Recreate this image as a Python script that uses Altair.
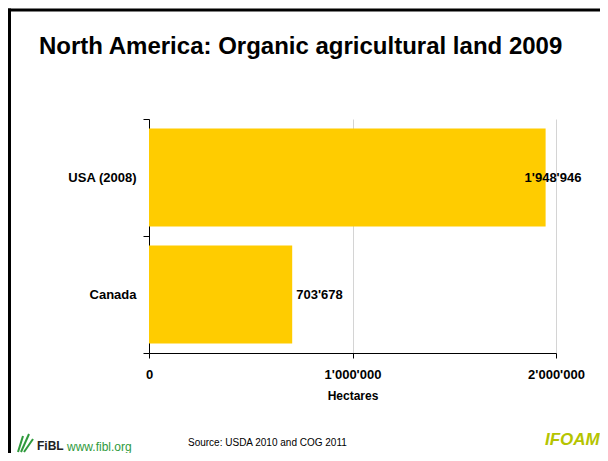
import altair as alt
import pandas as pd

countries = ["USA (2008)", "Canada"]
hectares = [1948946, 703678]
x_ticks = [0, 1000000, 2000000]
title_text = "North America: Organic agricultural land 2009"
source_text = "Source: USDA 2010 and COG 2011"

df = pd.DataFrame({"country": countries, "hectares": hectares})
dummy = pd.DataFrame({"d": [0]})

FONT = "Liberation Sans"
W, H = 407, 234
PAD = {"left": 141, "top": 111, "right": 44, "bottom": 100}
BOTTOM = PAD["bottom"]

x_enc = alt.X(
    "hectares:Q",
    scale=alt.Scale(domain=[0, 2000000], nice=False),
    axis=alt.Axis(
        values=x_ticks, format=",d", title="Hectares",
        grid=True, gridColor="#d4d4d4", gridWidth=1,
        domainColor="#000000", tickColor="#000000", tickSize=5,
        labelFont=FONT, labelFontSize=13, labelFontWeight="bold", labelColor="#000000",
        labelPadding=10, labelFlush=False,
        titleFont=FONT, titleFontSize=12, titleFontWeight="bold", titleColor="#000000",
        titlePadding=9,
    ),
)
y_enc = alt.Y(
    "country:N", sort=countries,
    scale=alt.Scale(paddingInner=0, paddingOuter=0),
    axis=alt.Axis(
        title=None, tickBand="extent", domainColor="#000000", tickColor="#000000",
        tickSize=6, labelPadding=7, labelFont=FONT, labelFontSize=13,
        labelFontWeight="bold", labelColor="#000000", grid=False,
    ),
)

base = alt.Chart(df)
bars = base.mark_bar(color="#FFCC00", height={"band": 0.838}).encode(x=x_enc, y=y_enc)

txt_can = base.transform_filter(alt.datum.country == "Canada").mark_text(
    align="left", baseline="middle", dx=4, font=FONT, fontSize=13, fontWeight="bold", color="#000000"
).encode(x="hectares:Q", y=alt.Y("country:N", sort=countries), text=alt.Text("hectares:Q", format=",d"))

txt_usa = base.transform_filter(alt.datum.country == "USA (2008)").mark_text(
    align="left", baseline="middle", dx=-21, font=FONT, fontSize=13, fontWeight="bold", color="#000000"
).encode(x="hectares:Q", y=alt.Y("country:N", sort=countries), text=alt.Text("hectares:Q", format=",d"))

dec = alt.Chart(dummy)
border_left = dec.mark_rule(color="#000000", strokeWidth=3).encode(
    x=alt.value(-139.5), y=alt.value(-110.5), y2=alt.value(H + BOTTOM))
border_top = dec.mark_rule(color="#000000", strokeWidth=3).encode(
    x=alt.value(-141), x2=alt.value(451), y=alt.value(-109))

title = dec.mark_text(align="left", baseline="alphabetic", font=FONT, fontSize=24, fontWeight="bold",
                      color="#000000").encode(x=alt.value(-110), y=alt.value(-65), text=alt.value(title_text))

leaf1 = dec.mark_rule(color="#2f9a3c", strokeWidth=2).encode(
    x=alt.value(-131), x2=alt.value(-126), y=alt.value(333), y2=alt.value(317))
leaf2 = dec.mark_rule(color="#2f9a3c", strokeWidth=2).encode(
    x=alt.value(-128), x2=alt.value(-120), y=alt.value(333), y2=alt.value(315))
leaf3 = dec.mark_rule(color="#2f9a3c", strokeWidth=2).encode(
    x=alt.value(-125), x2=alt.value(-116), y=alt.value(333), y2=alt.value(320))

fibl = dec.mark_text(align="left", baseline="middle", font=FONT, fontSize=12, fontWeight="bold",
                     color="#222222").encode(x=alt.value(-112), y=alt.value(327), text=alt.value("FiBL"))
fibl_url = dec.mark_text(align="left", baseline="middle", font=FONT, fontSize=12,
                         color="#2f9a3c").encode(x=alt.value(-82), y=alt.value(328), text=alt.value("www.fibl.org"))
source = dec.mark_text(align="left", baseline="middle", font=FONT, fontSize=10,
                       color="#000000").encode(x=alt.value(39), y=alt.value(324), text=alt.value(source_text))
ifoam = dec.mark_text(align="left", baseline="middle", font=FONT, fontSize=17, fontWeight="bold",
                      fontStyle="italic", color="#b5c400").encode(x=alt.value(396), y=alt.value(321), text=alt.value("IFOAM"))

chart = alt.layer(
    bars, txt_can, txt_usa, border_left, border_top, title, leaf1, leaf2, leaf3, fibl, fibl_url, source, ifoam
).properties(
    width=W, height=H,
    autosize=alt.AutoSizeParams(type="none"),
    padding=PAD,
).configure(
    locale={"number": {"decimal": ".", "thousands": "'", "grouping": [3], "currency": ["", ""]}}
).configure_view(stroke=None)

chart.save("out.html", embed_options={"renderer": "svg", "actions": False})
